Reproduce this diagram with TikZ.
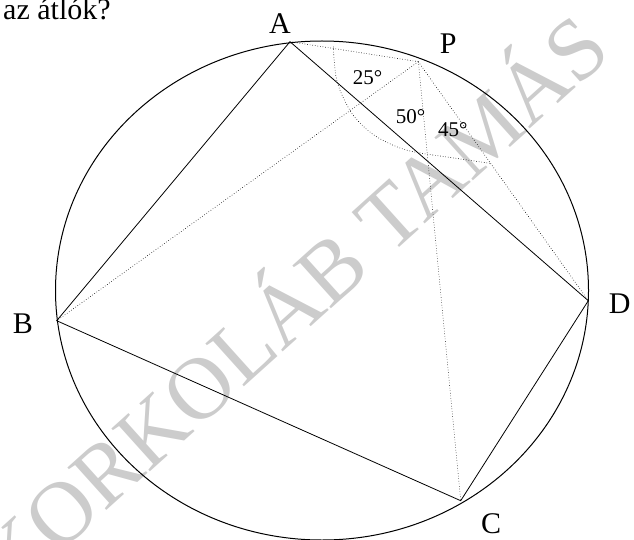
\documentclass[tikz,border=0pt]{standalone}
\usepackage{fontspec}
\setmainfont{Liberation Serif}
\begin{document}
\begin{tikzpicture}[x=1pt,y=-1pt,
  side/.style={line width=0.8pt,black},
  aux/.style={line width=0.6pt,dotted,black},
  lbl/.style={anchor=base,inner sep=0pt,font=\fontsize{30}{36}\selectfont},
  deg/.style={anchor=base,inner sep=0pt,font=\fontsize{21}{24}\selectfont},
  wmark/.style={anchor=base west,inner sep=0pt,rotate=42,text=black!20,font=\fontsize{88}{92}\selectfont}]
\useasboundingbox (0,0) rectangle (634,540);
% watermark
\node[wmark] (wm) at (10,598) {KORKOLÁB TAMÁS};
% circle
\draw[line width=1pt] (322,290.5) ellipse [x radius=266.5pt, y radius=249.5pt];
% points
\coordinate (A) at (290,41.7);
\coordinate (B) at (56.7,320.7);
\coordinate (C) at (460.7,500.7);
\coordinate (D) at (588.3,300.7);
\coordinate (P) at (418.3,61.7);
% quadrilateral
\draw[side] (A) -- (B) -- (C) -- (D) -- cycle;
% dotted lines from P
\draw[aux] (P) -- (A);
\draw[aux] (P) -- (B);
\draw[aux] (P) -- (C);
\draw[aux] (P) -- (D);
% angle arc
\draw[aux] plot[smooth,tension=0.6] coordinates {(333.3,46.7) (336.7,80) (348,107) (360,123) (377,137) (400,148) (420,153) (447,157) (490,163.3)};
% labels
\node[lbl] (lA) at (280,33.3) {A};
\node[lbl] (lP) at (448.3,53.3) {P};
\node[lbl] (lB) at (22.8,333.3) {B};
\node[lbl] (lD) at (619.7,313.3) {D};
\node[lbl] (lC) at (491,533.3) {C};
\node[deg] (d25) at (367.5,85) {25°};
\node[deg] (d50) at (410.5,123.3) {50°};
\node[deg] (d45) at (452.8,136.7) {45°};
\node[lbl,anchor=base west] (q) at (3,20) {az átlók?};
\end{tikzpicture}
\end{document}
